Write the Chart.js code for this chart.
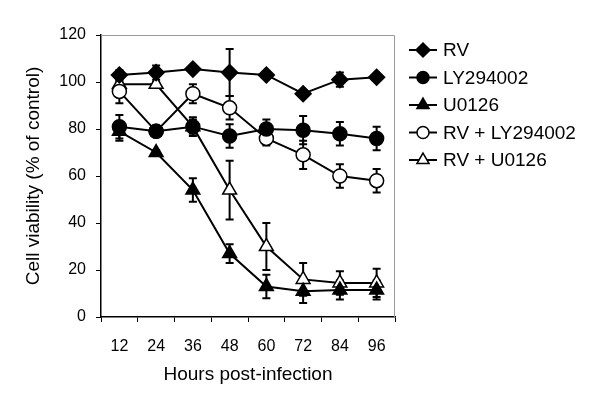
<!DOCTYPE html>
<html lang="en"><head>
<meta charset="utf-8">
<title>Cell viability</title>
<style type="text/css">
body { margin:0; background:#ffffff; }
#chart1 { width:600px; height:411px; }
</style>
<script src="https://cdn.jsdelivr.net/npm/chart.js"></script>
<script>
// values
hours=['12','24','36','48','60','72','84','96'];
rv=[103,104,105.5,104,103,95,101,102];
rvErr=[2,3,1,10,1,1,3,1];
ly=[81,79,81,77,80,79.5,78,76];
lyErr=[5,2,4,5,4,6,5,5];
u0126=[79,70,54,27,13,11,11.5,11.5];
u0126Err=[4,1,5,4,5,5,4,4];
rvLy=[96,79,95,89,76,69,60,58];
rvLyErr=[5,1,4,5,3,6,5,5];
rvU=[99,99,81,54,30,16,14.5,14.5];
rvUErr=[1,1,3,12.5,10,7,5,6];
seriesNames=['RV','LY294002','U0126','RV + LY294002','RV + U0126'];

function makeSet(i,values,errs,style,filled,radius) {
  return {label:seriesNames[i],data:values,errors:errs,
    borderColor:'#000000',borderWidth:2,
    pointStyle:style,pointRadius:radius,pointBorderWidth:1.5,
    pointBorderColor:'#000000',pointBackgroundColor:filled?'#000000':'#ffffff',
    tension:0}; }

errorBars={id:'errorBars',
  beforeDatasetsDraw:function(chart) {
    var ctx=chart.ctx, x=chart.scales.x, y=chart.scales.y;
    ctx.save(); ctx.strokeStyle='#000000'; ctx.lineWidth=2;
    chart.data.datasets.forEach(function(ds) {
      ds.data.forEach(function(v,j) {
        var e=ds.errors[j]; if (!e) return;
        var px=x.getPixelForValue(j), top=y.getPixelForValue(v+e), bot=y.getPixelForValue(v-e);
        ctx.beginPath();
        ctx.moveTo(px,top); ctx.lineTo(px,bot);
        ctx.moveTo(px-4,top); ctx.lineTo(px+4,top);
        ctx.moveTo(px-4,bot); ctx.lineTo(px+4,bot);
        ctx.stroke(); }); });
    ctx.restore(); },
  afterDraw:function(chart) {
    var ctx=chart.ctx, a=chart.chartArea;
    ctx.save();
    // gray frame on top and right
    ctx.strokeStyle='#9a9a9a'; ctx.lineWidth=1;
    ctx.beginPath(); ctx.moveTo(a.left,a.top+0.5); ctx.lineTo(a.right-0.5,a.top+0.5);
    ctx.lineTo(a.right-0.5,a.bottom); ctx.stroke();
    // legend with line and marker
    ctx.font='19px "Liberation Sans", Arial, sans-serif'; ctx.textBaseline='middle';
    chart.data.datasets.forEach(function(ds,i) {
      var ly0=50+i*27.5;
      ctx.strokeStyle='#000000'; ctx.lineWidth=2;
      ctx.beginPath(); ctx.moveTo(409,ly0); ctx.lineTo(437,ly0); ctx.stroke();
      ctx.fillStyle=ds.pointBackgroundColor; ctx.lineWidth=1.5;
      Chart.helpers.drawPoint(ctx,{pointStyle:ds.pointStyle,radius:ds.pointRadius-1,borderWidth:1.5,rotation:0},423,ly0);
      ctx.fillStyle='#000000';
      ctx.fillText(ds.label,443,ly0+1); });
    ctx.restore(); } };

function initChart() {
  var font={family:'"Liberation Sans", Arial, sans-serif',size:16};
  var titleFont={family:'"Liberation Sans", Arial, sans-serif',size:19};
  var data={labels:hours,datasets:[
    makeSet(0,rv,rvErr,'rectRot',true,8),
    makeSet(1,ly,lyErr,'circle',true,7),
    makeSet(2,u0126,u0126Err,'triangle',true,8),
    makeSet(3,rvLy,rvLyErr,'circle',false,7),
    makeSet(4,rvU,rvUErr,'triangle',false,8)]};

  var config={type:'line',data:data,plugins:[errorBars],options:{
    responsive:false,animation:false,
    layout:{padding:{left:0,right:205,top:35,bottom:0}},
    plugins:{legend:{display:false},tooltip:{enabled:false}},
    scales:{
      x:{offset:true,
        grid:{offset:true,drawOnChartArea:false,color:'#000000',tickLength:5},
        border:{color:'#000000',width:1.5},
        ticks:{color:'#000000',font:font,padding:15,maxRotation:0},
        title:{display:true,text:'Hours post-infection',color:'#000000',font:titleFont,padding:{top:0,bottom:25}},
        afterFit:function(s){s.height=94;}},
      y:{min:0,max:120,
        grid:{drawOnChartArea:false,color:'#000000',tickLength:5},
        border:{color:'#000000',width:1.5},
        ticks:{stepSize:20,color:'#000000',font:font,padding:10},
        title:{display:true,text:'Cell viability (% of control)',color:'#000000',font:titleFont,padding:{top:22,bottom:0}},
        afterFit:function(s){s.width=101;}}}}};

  myChart=new Chart(document.getElementById('myChart'),config); }
</script></head>
<body onload="initChart();">
<div id="chart1">
  <canvas id="myChart" width="600" height="411"></canvas>
</div>
</body></html>
